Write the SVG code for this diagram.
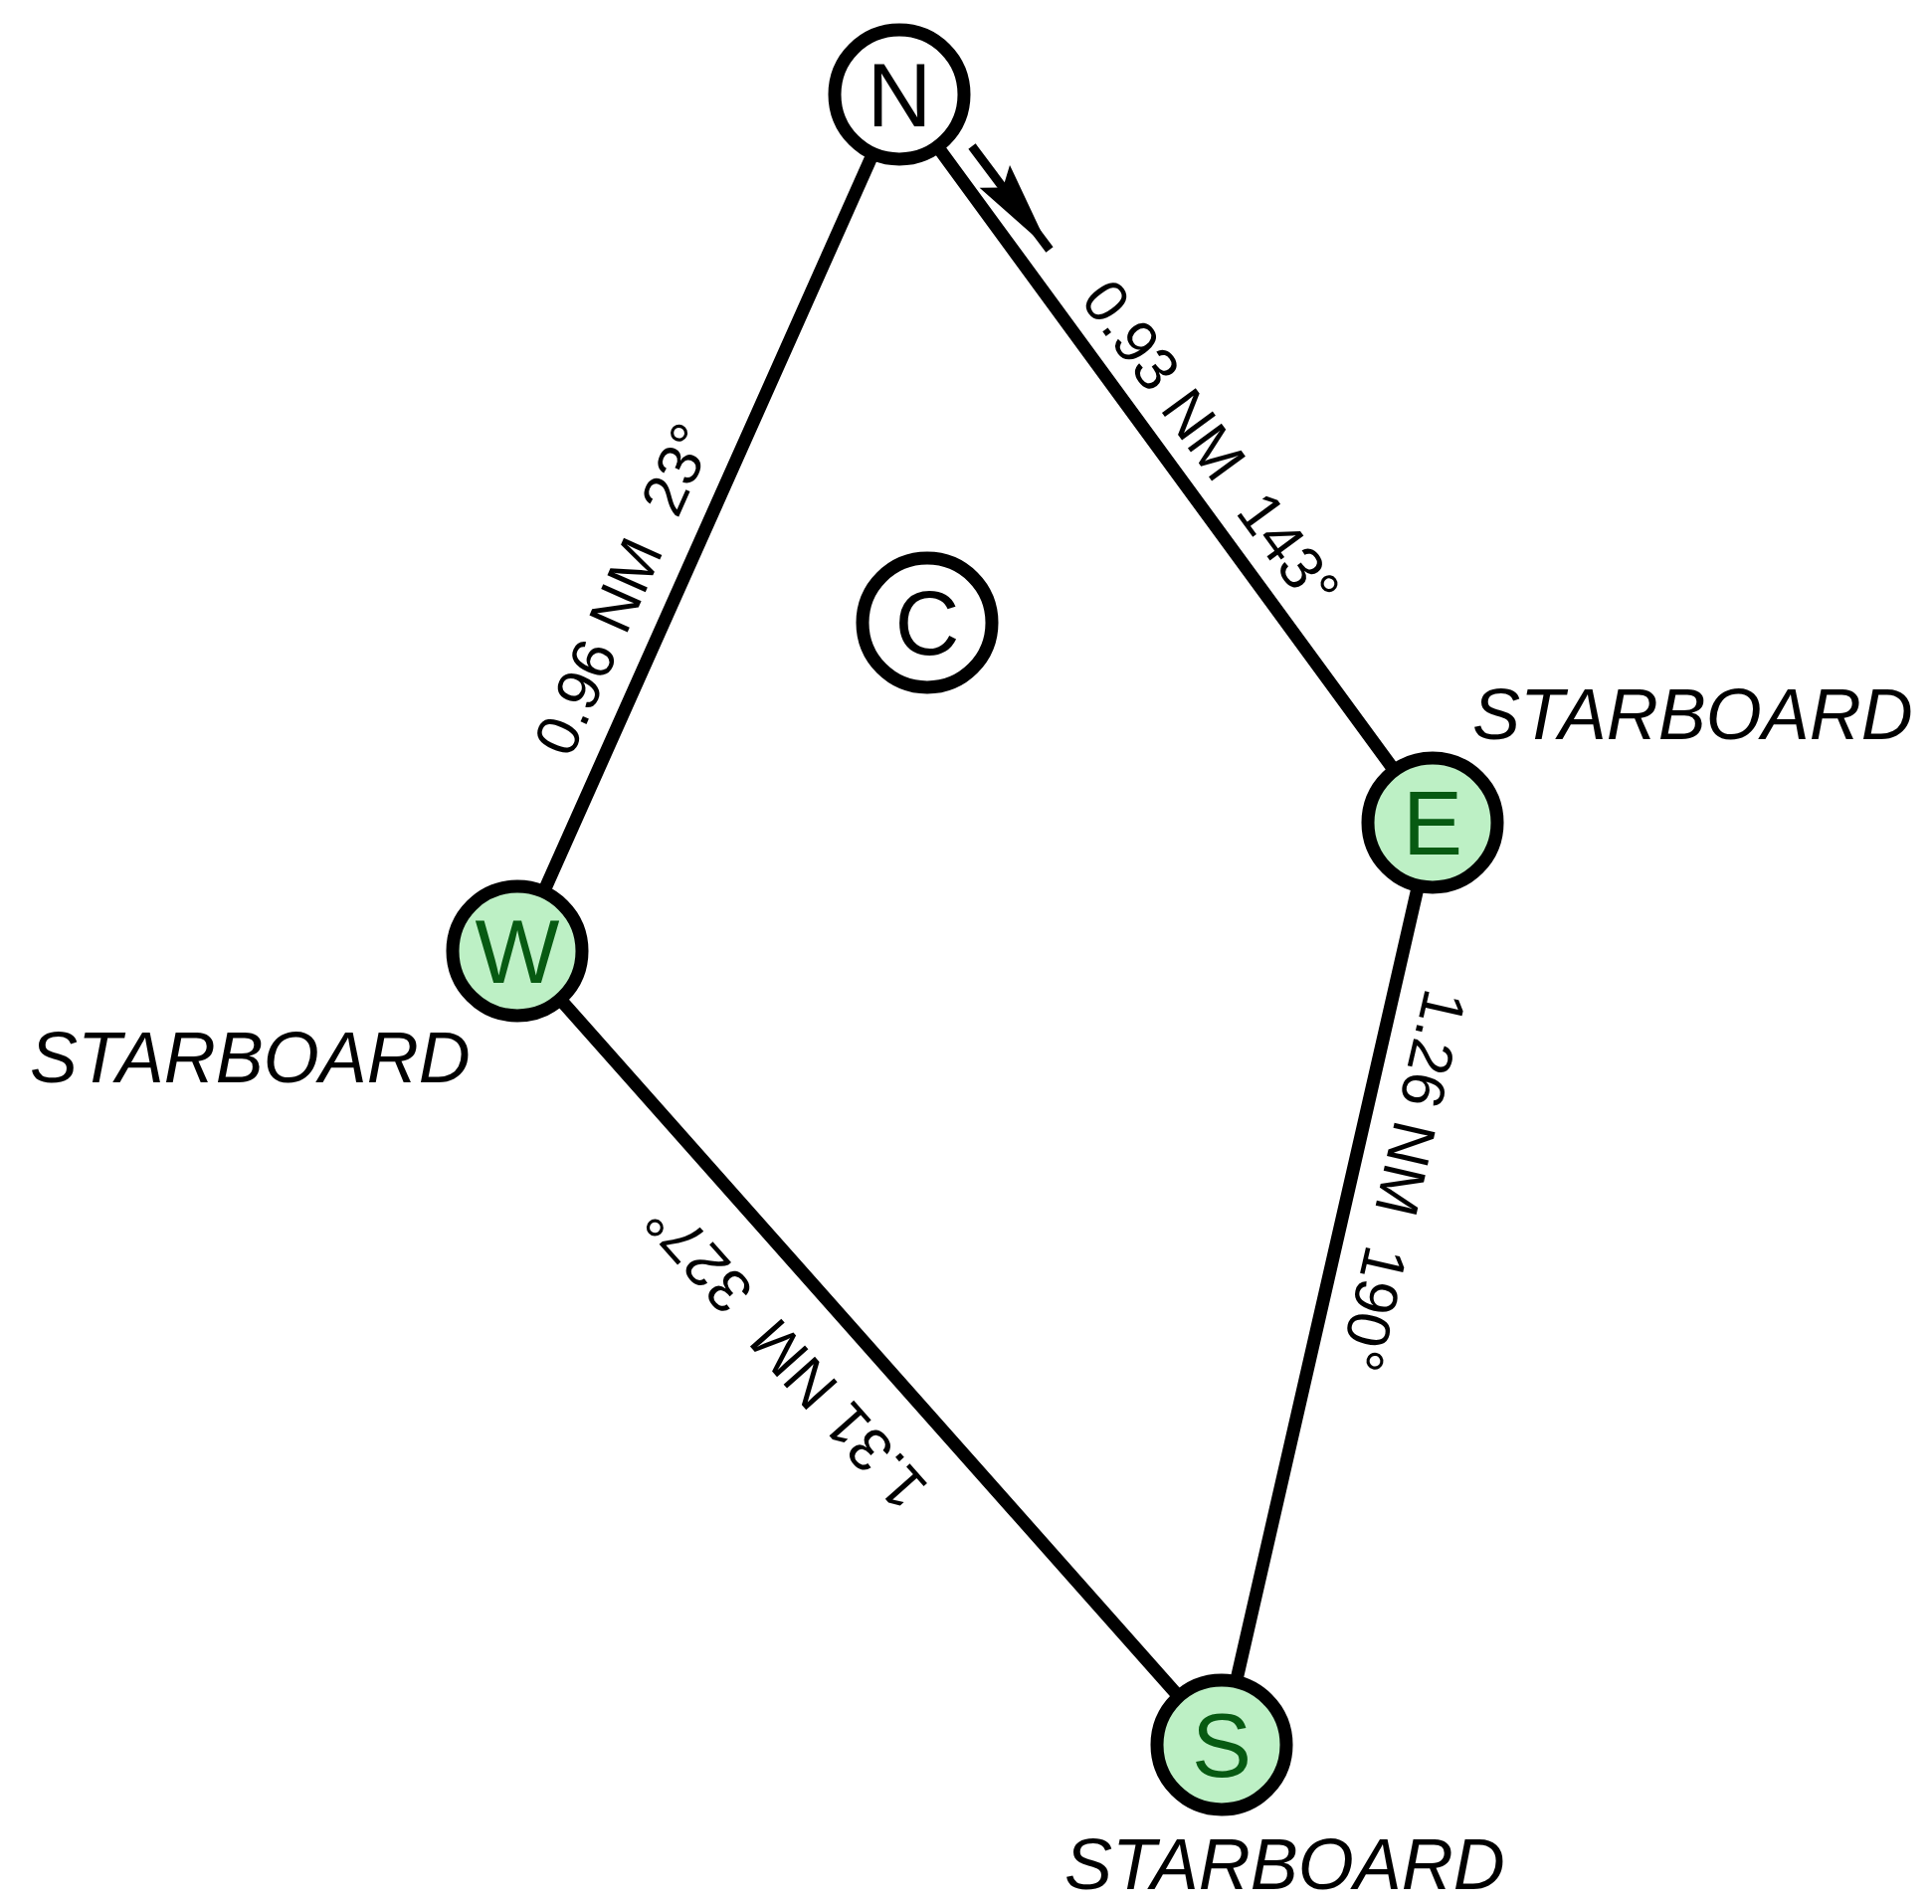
<svg xmlns="http://www.w3.org/2000/svg" width="1942" height="1914" viewBox="0 0 1942 1914">
<style>
.edge{stroke:#000;stroke-width:13;fill:none;stroke-linecap:round}
.mark{stroke:#000;stroke-width:13}
.white{fill:#fff}
.green{fill:#bdf0c5}
.ltr{font-family:"Liberation Sans",Arial,sans-serif;font-size:90px;text-anchor:middle}
.ltrw{fill:#000}
.ltrg{fill:#075a12}
.elbl{font-family:"Liberation Sans",Arial,sans-serif;font-size:61px;text-anchor:middle;fill:#000}
.side{font-family:"Liberation Sans",Arial,sans-serif;font-size:72px;font-style:italic;fill:#000}
</style>
<defs>
<marker id="ah" viewBox="-100 -24 110 48" refX="0" refY="0" markerWidth="110" markerHeight="48" markerUnits="userSpaceOnUse" orient="auto">
<path d="M0,0 L-92,-19 L-78,0 L-92,19 Z" fill="#000"/>
</marker>
</defs>
<rect width="1942" height="1914" fill="#fff"/>
<g id="connectors">
<line class="edge" x1="904" y1="95" x2="1440" y2="827"/>
<line class="edge" x1="1440" y1="827" x2="1228" y2="1754"/>
<line class="edge" x1="1228" y1="1754" x2="520" y2="956"/>
<line class="edge" x1="520" y1="956" x2="904" y2="95"/>
<line x1="977" y1="147" x2="1055" y2="251" stroke="#000" stroke-width="9" marker-end="url(#ah)"/>
<text class="elbl" xml:space="preserve" transform="translate(1218,446) rotate(53.8)" x="0" y="22">0.93 NM  143°</text>
<text class="elbl" xml:space="preserve" transform="translate(1411,1187) rotate(102.9)" x="0" y="22">1.26 NM  190°</text>
<text class="elbl" xml:space="preserve" transform="translate(789,1363) rotate(228.4)" x="0" y="22">1.31 NM  327°</text>
<text class="elbl" xml:space="preserve" transform="translate(626,592) rotate(-66)" x="0" y="22">0.96 NM  23°</text>
</g>
<g id="node-N">
<circle class="mark white" cx="904" cy="95" r="65"/>
<text class="ltr ltrw" x="904" y="127">N</text>
</g>
<g id="node-C">
<circle class="mark white" cx="932" cy="626" r="65"/>
<text class="ltr ltrw" x="932" y="658">C</text>
</g>
<g id="node-E">
<circle class="mark green" cx="1440" cy="827" r="65"/>
<text class="ltr ltrg" x="1440" y="859">E</text>
<text class="side" x="1480" y="743">STARBOARD</text>
</g>
<g id="node-W">
<circle class="mark green" cx="520" cy="956" r="65"/>
<text class="ltr ltrg" x="520" y="988">W</text>
<text class="side" x="30" y="1088">STARBOARD</text>
</g>
<g id="node-S">
<circle class="mark green" cx="1228" cy="1754" r="65"/>
<text class="ltr ltrg" x="1228" y="1786">S</text>
<text class="side" x="1070" y="1899">STARBOARD</text>
</g>
</svg>
